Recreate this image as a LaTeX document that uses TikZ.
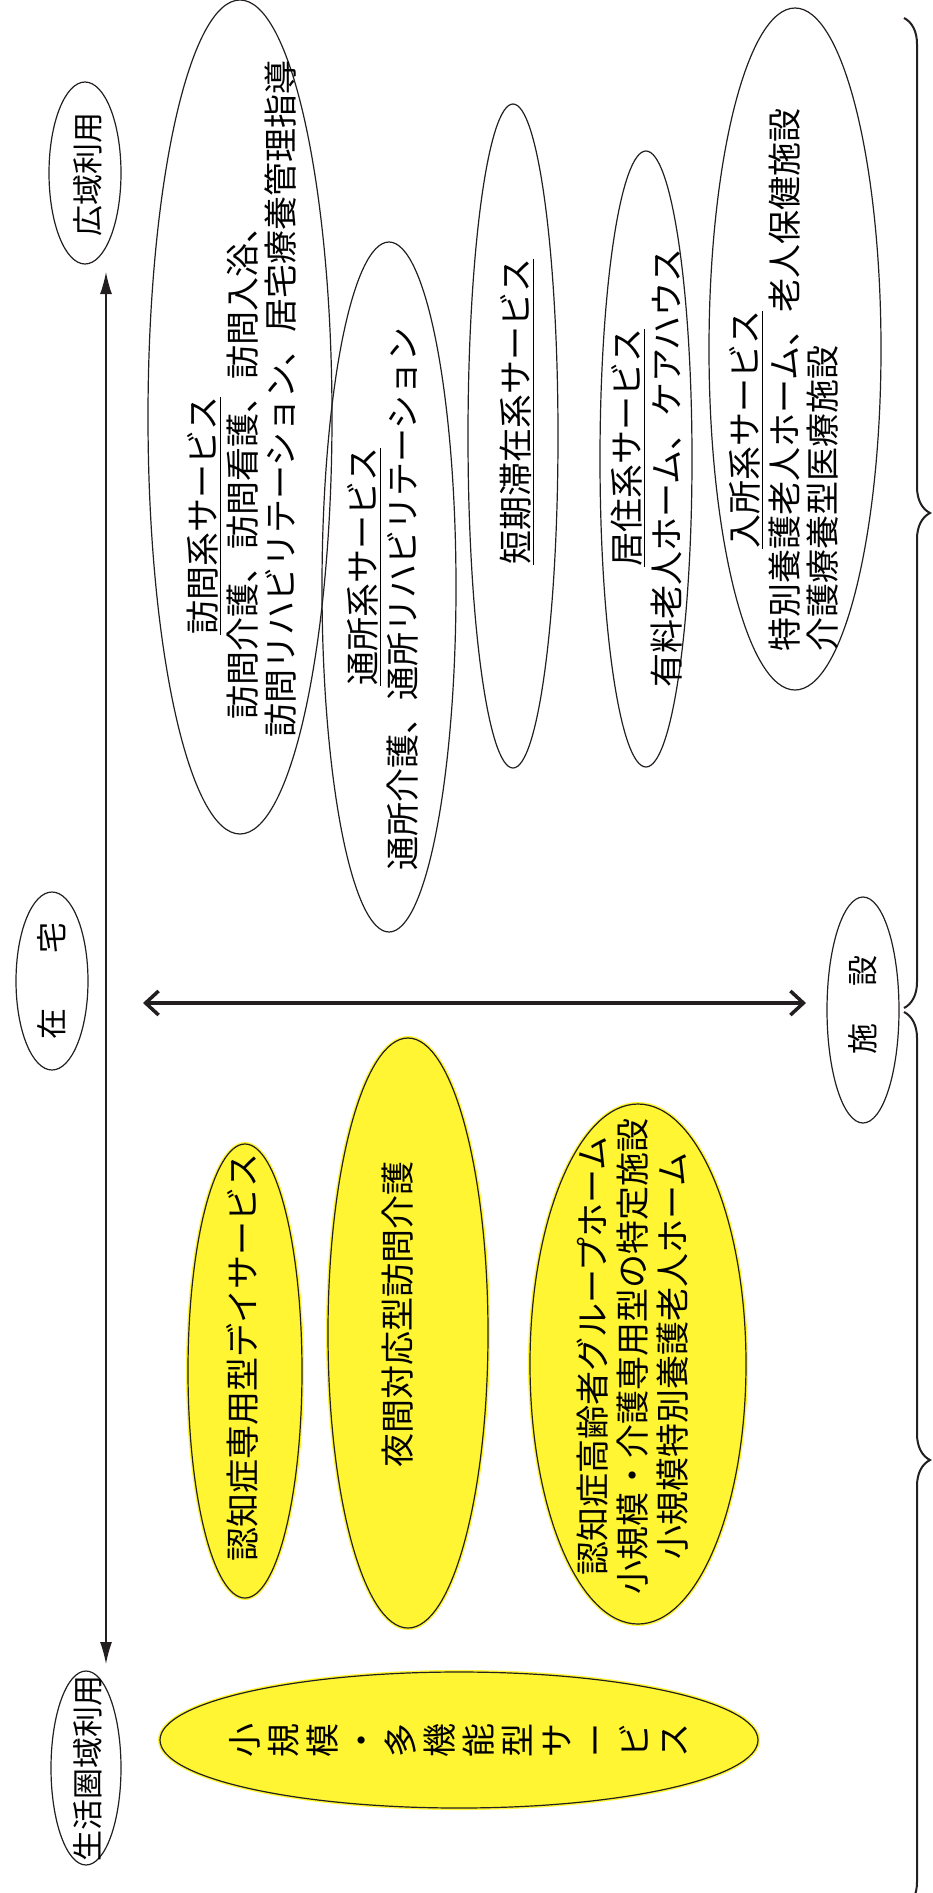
\documentclass[tikz,border=0pt]{standalone}
\usepackage{fontspec}
\setmainfont{Noto Sans CJK JP}
\usepackage{tikz}
\usetikzlibrary{arrows.meta, decorations.pathreplacing, shapes.geometric}
\usepackage{xcolor}
\definecolor{CareYellow}{cmyk}{0, 0, 0.80, 0}
\definecolor{InkBlack}{cmyk}{0, 0, 0, 1.00}
\tikzset{%
  service_area/.style={%
    ellipse,%
    draw=InkBlack,%
    line width=1.2pt,%
    inner sep=0pt,%
  },
  local_area/.style={%
    service_area,%
    fill=CareYellow,%
    preaction={draw=CareYellow, line width=4pt},%
  },
  line_text/.style={%
    rotate=90,%
    anchor=west,%
    inner sep=0pt,%
    font={\fontsize{34}{39}\selectfont},%
  },
  center_text/.style={%
    line_text,%
    anchor=center,%
    align=center,%
  },
  tag_text/.style={%
    center_text,%
    font={\fontsize{31}{37}\selectfont},%
  },
  range_arrow/.style={%
    arrows={Latex[length=22pt, width=12pt]-Latex[length=22pt, width=12pt]},%
    line width=1.3pt,%
    color=InkBlack,%
  },
  shift_arrow/.style={%
    arrows={Straight Barb[length=13pt, width=24pt]-Straight Barb[length=13pt, width=24pt]},%
    line width=3.5pt,%
    color=InkBlack,%
  },
  bracket/.style={%
    decorate,%
    decoration={brace, amplitude=26pt},%
    line width=2pt,%
    color=InkBlack,%
  },
}
\begin{document}
\begin{tikzpicture}[x=1pt, y=-1pt]
    \useasboundingbox (0,0) rectangle (932,1893);

    \node [service_area, minimum width=184, minimum height=834] (Houmon) at (240,417) {};
    \node [service_area, minimum width=134, minimum height=690] (Tsusho) at (389,587) {};
    \node [service_area, minimum width=90, minimum height=664] (Tanki) at (513,436) {};
    \node [service_area, minimum width=92, minimum height=616] (Kyoju) at (646,459) {};
    \node [service_area, minimum width=172, minimum height=682] (Nyusho) at (795,349) {};

    \node [line_text] (houmon_title) at (204,635) {\underline{訪問系サービス}};
    \node [line_text] (houmon_first) at (243,720) {訪問介護、訪問看護、訪問入浴、};
    \node [line_text] (houmon_second) at (281,738) {訪問リハビリテーション、居宅療養管理指導};
    \node [line_text] (tsusho_title) at (364,686) {\underline{通所系サービス}};
    \node [line_text] (tsusho_first) at (403,871) {通所介護、通所リハビリテーション};
    \node [line_text] (tanki_title) at (517,565) {\underline{短期滞在系サービス}};
    \node [line_text] (kyoju_title) at (628,567) {\underline{居住系サービス}};
    \node [line_text] (kyoju_first) at (667,688) {有料老人ホーム、ケアハウス};
    \node [line_text] (nyusho_title) at (746,549) {\underline{入所系サービス}};
    \node [line_text] (nyusho_first) at (785,652) {特別養護老人ホーム、老人保健施設};
    \node [line_text] (nyusho_second) at (823,652) {介護療養型医療施設};

    \node [local_area, minimum width=114, minimum height=454] (DementiaDay) at (245,1371) {};
    \node [local_area, minimum width=160, minimum height=590] (NightVisit) at (408,1333) {};
    \node [local_area, minimum width=216, minimum height=520] (GroupHome) at (638,1364) {};
    \node [local_area, minimum width=598, minimum height=136] (SmallMulti) at (459,1740) {};

    \node [center_text] (dementia_text) at (242,1357) {認知症専用型デイサービス};
    \node [center_text] (night_text) at (398,1314) {夜間対応型訪問介護};
    \node [center_text, font={\fontsize{34}{40}\selectfont}] (group_text) at (633,1356)
      {認知症高齢者グループホーム\\小規模・介護専用型の特定施設\\小規模特別養護老人ホーム};
    \node [center_text] (multi_text) at (458,1740)
      {小\\規\\模\\・\\多\\機\\能\\型\\サ\\ー\\ビ\\ス};

    \node [service_area, minimum width=72, minimum height=182] (Wide) at (85,173) {};
    \node [service_area, minimum width=72, minimum height=178] (Home) at (52,981) {};
    \node [service_area, minimum width=70, minimum height=194] (Local) at (86,1768) {};
    \node [service_area, minimum width=72, minimum height=226] (Facility) at (863,1010) {};

    \node [tag_text] (wide_text) at (88,174) {広域利用};
    \node [tag_text] (home_text) at (52,981) {在\hspace{1.8em}宅};
    \node [tag_text] (local_text) at (88,1768) {生活圏域利用};
    \node [tag_text] (facility_text) at (863,1005) {施\hspace{1.2em}設};

    \coordinate (wide_end) at (106,272);
    \coordinate (local_end) at (106,1664);
    \coordinate (home_end) at (143,1003);
    \coordinate (facility_end) at (806,1003);
    \coordinate (upper_top) at (904,18);
    \coordinate (upper_bottom) at (904,1008);
    \coordinate (lower_top) at (904,1012);
    \coordinate (lower_bottom) at (904,1908);

    \draw [range_arrow]
      (wide_end)
      --
      (local_end);
    \draw [shift_arrow]
      (home_end)
      --
      (facility_end);
    \draw [bracket]
      (upper_top)
      --
      (upper_bottom);
    \draw [bracket]
      (lower_top)
      --
      (lower_bottom);
\end{tikzpicture}
\end{document}
